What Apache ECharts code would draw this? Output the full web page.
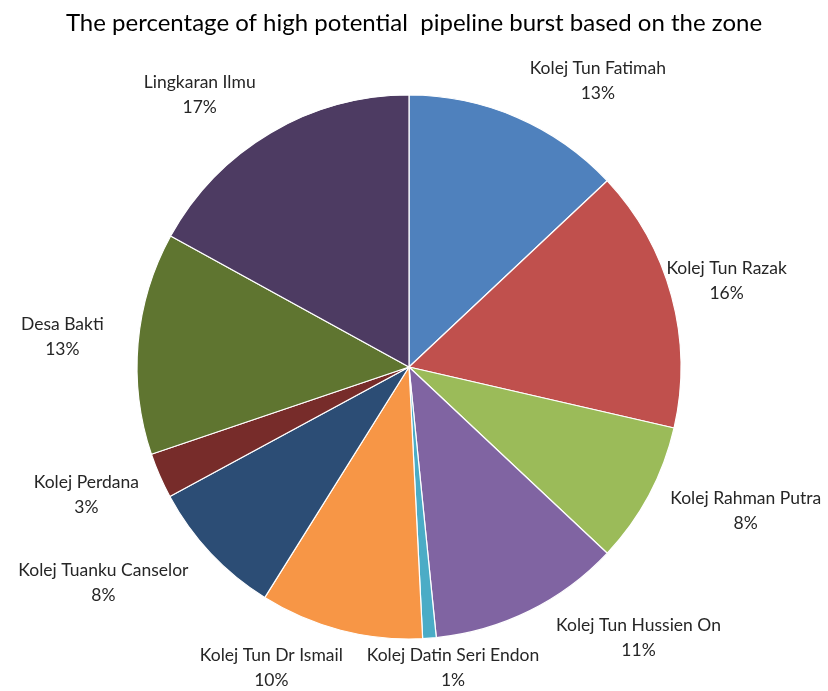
<!DOCTYPE html>
<html>
<head>
<meta charset="utf-8">
<script src="https://cdn.jsdelivr.net/npm/echarts@6/dist/echarts.min.js"></script>
<style>html,body{margin:0;padding:0;background:#fff;}#c{width:828px;height:691px;}</style>
</head>
<body>
<div id="c"></div>
<script>
const categories = ["Kolej Tun Fatimah","Kolej Tun Razak","Kolej Rahman Putra","Kolej Tun Hussien On","Kolej Datin Seri Endon","Kolej Tun Dr Ismail","Kolej Tuanku Canselor","Kolej Perdana","Desa Bakti","Lingkaran Ilmu"];
const values = [13.0, 15.6, 8.4, 11.4, 0.8, 9.7, 8.2, 2.7, 13.2, 17.0];
const colors = ["#4F81BD","#C0504D","#9BBB59","#8064A2","#4BACC6","#F79646","#2C4D75","#772C2A","#5F7530","#4D3B62"];

// label placement (Excel "best fit" look): angle nudge (deg) and distance from centre (px)
const labelAngleNudge = [10, 0, -5, -14, -4, 10, 8, 2, 0, -7];
const labelDist = [343, 329, 366, 355, 304, 331, 374, 347, 348, 343];

const CX = 409, CY = 367, R = 272;
const total = values.reduce((a,b)=>a+b,0);
const midAngles = [];
{ let acc = 0; values.forEach(v=>{ midAngles.push((acc + v/2)/total*360); acc += v; }); }

const chart = echarts.init(document.getElementById('c'), null, {renderer:'canvas'});
chart.setOption({
  backgroundColor:'#fff',
  animation:false,
  title:{text:'The percentage of high potential  pipeline burst based on the zone', left:'center', top:6,
    textStyle:{fontFamily:'Lato', fontSize:24, fontWeight:'normal', color:'#000'}},
  series:[{
    type:'pie',
    center:[CX,CY],
    radius:[0,R],
    startAngle:90,
    clockwise:true,
    data: categories.map((n,i)=>({name:n, value:values[i], itemStyle:{color:colors[i]}})),
    itemStyle:{borderColor:'#fff', borderWidth:1.2},
    label:{show:true, position:'outside', formatter:p=>p.name+'\n'+Math.round(p.percent)+'%',
      fontFamily:'Lato', fontSize:17.5, color:'#262626', lineHeight:25, align:'center',
      overflow:'none', width:null},
    labelLine:{show:false, length:25, length2:0},
    labelLayout:function(p){
      const i = p.dataIndex;
      const a = (midAngles[i] + labelAngleNudge[i]) * Math.PI/180;
      const d = labelDist[i];
      return {x: CX + d*Math.sin(a), y: CY - d*Math.cos(a), align:'center', verticalAlign:'middle'};
    }
  }]
});
</script>
</body>
</html>
